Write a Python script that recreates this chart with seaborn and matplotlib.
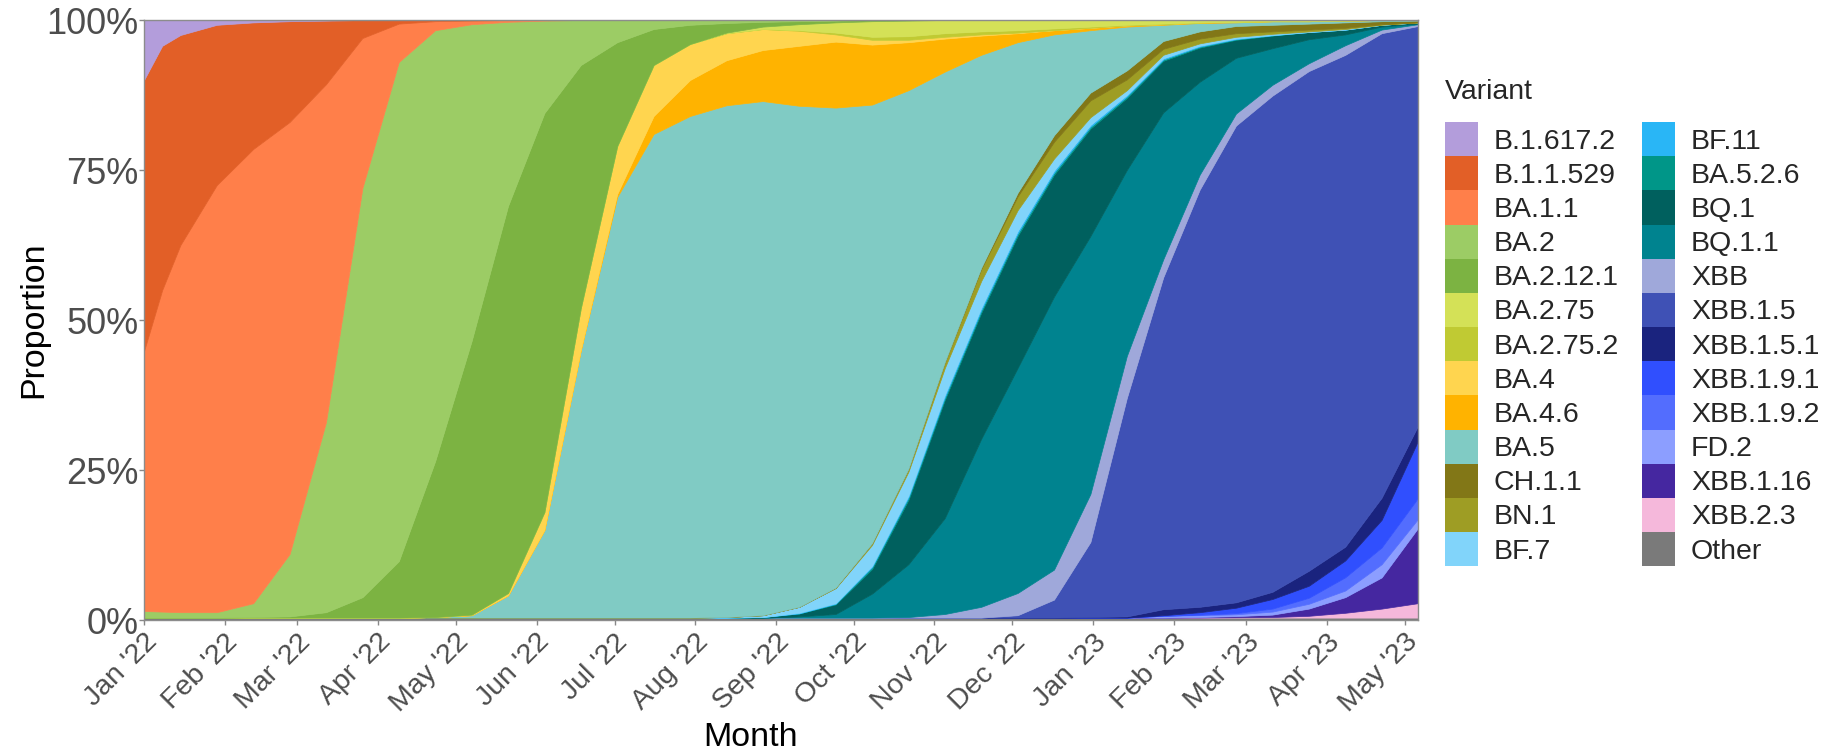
import pandas as pd
import matplotlib
matplotlib.use("Agg")
import matplotlib.pyplot as plt
from matplotlib.patches import Patch
import seaborn as sns

# sample dates
dates = ["2022-01-01", "2022-01-08", "2022-01-15", "2022-01-29", "2022-02-12", "2022-02-26",
         "2022-03-12", "2022-03-26", "2022-04-09", "2022-04-23", "2022-05-07", "2022-05-21",
         "2022-06-04", "2022-06-18", "2022-07-02", "2022-07-16", "2022-07-30", "2022-08-13",
         "2022-08-27", "2022-09-10", "2022-09-24", "2022-10-08", "2022-10-22", "2022-11-05",
         "2022-11-19", "2022-12-03", "2022-12-17", "2022-12-31", "2023-01-14", "2023-01-28",
         "2023-02-11", "2023-02-25", "2023-03-11", "2023-03-25", "2023-04-08", "2023-04-22",
         "2023-05-06"]

# share of sequences per variant (%)
b_1_617_2 = [10, 4.3, 2.5, 0.8, 0.4, 0.2, 0.1, 0, 0, 0, 0, 0, 0,
             0, 0, 0, 0, 0, 0, 0, 0, 0, 0, 0, 0,
             0, 0, 0, 0, 0, 0, 0, 0, 0, 0, 0, 0]
b_1_1_529 = [45.2, 40.7, 35, 26.7, 21.1, 16.8, 10.6, 3.0, 0.6, 0.2, 0.1, 0, 0,
             0, 0, 0, 0, 0, 0, 0, 0, 0, 0, 0, 0,
             0, 0, 0, 0, 0, 0, 0, 0, 0, 0, 0, 0]
ba_1_1 = [43.3, 53.6, 61.2, 71.2, 75.7, 72, 56.3, 25, 6.4, 1.5, 0.6, 0.3, 0.1,
          0, 0, 0, 0, 0, 0, 0, 0, 0, 0, 0, 0,
          0, 0, 0, 0, 0, 0, 0, 0, 0, 0, 0, 0]
ba_2 = [1.1, 1.0, 0.9, 0.9, 2.3, 10.4, 31.7, 68.2, 83.2, 71.8, 52.8, 30.7, 15.4,
        7.5, 3.7, 1.5, 0.8, 0.5, 0.3, 0.2, 0.1, 0, 0, 0, 0,
        0, 0, 0, 0, 0, 0, 0, 0, 0, 0, 0, 0]
ba_2_12_1 = [0, 0, 0, 0, 0.1, 0.2, 0.9, 3.4, 9.4, 26, 45.6, 64.5, 66.5,
             40.5, 17.3, 6, 3.2, 1.6, 0.8, 0.5, 0.3, 0.2, 0.1, 0, 0,
             0, 0, 0, 0, 0, 0, 0, 0, 0, 0, 0, 0]
ba_2_75 = [0, 0, 0, 0, 0, 0, 0, 0, 0, 0, 0, 0, 0,
           0, 0, 0, 0, 0.1, 0.4, 1.0, 1.7, 2.6, 2.6, 2.2, 1.9,
           1.7, 1.4, 1.1, 0.8, 0.6, 0.4, 0.3, 0.2, 0.2, 0.1, 0, 0]
ba_2_75_2 = [0, 0, 0, 0, 0, 0, 0, 0, 0, 0, 0, 0, 0,
             0, 0, 0, 0, 0, 0, 0.1, 0.3, 0.5, 0.6, 0.6, 0.5,
             0.4, 0.3, 0.2, 0.1, 0.1, 0, 0, 0, 0, 0, 0, 0]
ba_4 = [0, 0, 0, 0, 0, 0, 0, 0, 0, 0, 0.1, 0.4, 3,
        7, 8, 8.5, 6, 4.5, 3.5, 2.5, 1.2, 0.8, 0.4, 0.3, 0.2,
        0.1, 0, 0, 0, 0, 0, 0, 0, 0, 0, 0, 0]
ba_4_6 = [0, 0, 0, 0, 0, 0, 0, 0, 0, 0, 0, 0, 0,
          0, 0.5, 3, 6, 7.5, 8.5, 10, 11, 10, 8, 5.5, 3.2,
          1.5, 0.7, 0.4, 0.2, 0.1, 0.1, 0.1, 0, 0, 0, 0, 0]
ba_5 = [0, 0, 0, 0, 0, 0, 0, 0, 0, 0.1, 0.4, 3.7, 14.6,
        44.6, 70.1, 80.6, 83.6, 85.2, 85.6, 83.5, 80, 73.1, 63.1, 48.4, 35.5,
        25.1, 16.8, 10.4, 7.3, 2.7, 1.4, 0.6, 0.6, 0.4, 0.3, 0.2, 0.1]
ch_1_1 = [0, 0, 0, 0, 0, 0, 0, 0, 0, 0, 0, 0, 0,
          0, 0, 0, 0, 0, 0, 0, 0, 0, 0, 0, 0.2,
          0.6, 1.1, 1.3, 1.5, 1.3, 1.2, 1.2, 1.1, 1.0, 0.9, 0.5, 0.3]
bn_1 = [0, 0, 0, 0, 0, 0, 0, 0, 0, 0, 0, 0, 0,
        0, 0, 0, 0, 0, 0, 0, 0.1, 0.3, 0.5, 1.0, 2.0,
        2.3, 2.8, 2.8, 1.8, 1.0, 0.8, 0.6, 0.4, 0.3, 0.2, 0.1, 0]
bf_7 = [0, 0, 0, 0, 0, 0, 0, 0, 0, 0, 0, 0, 0,
        0, 0, 0, 0, 0.1, 0.3, 1.0, 2.5, 3.5, 4.0, 4.5, 4.5,
        3.5, 2.0, 1.3, 0.8, 0.6, 0.4, 0.3, 0.2, 0.1, 0.1, 0, 0]
bf_11 = [0, 0, 0, 0, 0, 0, 0, 0, 0, 0, 0, 0, 0,
         0, 0, 0, 0, 0, 0, 0.1, 0.1, 0.2, 0.3, 0.4, 0.4,
         0.4, 0.35, 0.3, 0.25, 0.2, 0.15, 0.1, 0.05, 0, 0, 0, 0]
ba_5_2_6 = [0, 0, 0, 0, 0, 0, 0, 0, 0, 0, 0, 0, 0,
            0, 0, 0, 0, 0, 0, 0, 0.1, 0.3, 0.4, 0.4, 0.4,
            0.4, 0.35, 0.3, 0.25, 0.2, 0.15, 0.1, 0.05, 0, 0, 0, 0]
bq_1 = [0, 0, 0, 0, 0, 0, 0, 0, 0, 0, 0, 0, 0,
        0, 0, 0, 0, 0, 0.1, 0.5, 1.6, 4.1, 10.7, 19.7, 21,
        22, 20.3, 17.9, 12, 8.6, 5.7, 3, 2.1, 1.2, 0.8, 0.3, 0.2]
bq_1_1 = [0, 0, 0, 0, 0, 0, 0, 0, 0, 0, 0, 0, 0,
          0, 0, 0, 0, 0, 0, 0.2, 0.6, 4.0, 8.8, 16, 28,
          37.5, 45.5, 43, 31, 24.5, 15.5, 9.3, 6.1, 4, 1.8, 0.5, 0.1]
xbb = [0, 0, 0, 0, 0, 0, 0, 0, 0, 0, 0, 0, 0,
       0, 0, 0, 0, 0, 0, 0, 0, 0, 0.1, 0.6, 1.8,
       3.7, 5, 8, 7, 3, 2.5, 2, 1.8, 1.3, 1.6, 0.6, 0.3]
xbb_1_5 = [0, 0, 0, 0, 0, 0, 0, 0, 0, 0, 0, 0, 0,
           0, 0, 0, 0, 0, 0, 0, 0, 0, 0, 0, 0,
           0.4, 3.0, 12.5, 36.4, 55.3, 69.5, 79.5, 82.7, 83.2, 81.8, 77.5, 66.5]
xbb_1_5_1 = [0, 0, 0, 0, 0, 0, 0, 0, 0, 0, 0, 0, 0,
             0, 0, 0, 0, 0, 0, 0, 0, 0, 0, 0, 0,
             0, 0, 0.1, 0.2, 1.0, 0.9, 0.9, 1.2, 2.5, 2.3, 3.7, 2.5]
xbb_1_9_1 = [0, 0, 0, 0, 0, 0, 0, 0, 0, 0, 0, 0, 0,
             0, 0, 0, 0, 0, 0, 0, 0, 0, 0, 0, 0,
             0, 0, 0, 0, 0.1, 0.4, 0.9, 1.6, 2.0, 2.8, 4.6, 9.5]
xbb_1_9_2 = [0, 0, 0, 0, 0, 0, 0, 0, 0, 0, 0, 0, 0,
             0, 0, 0, 0, 0, 0, 0, 0, 0, 0, 0, 0,
             0, 0, 0, 0, 0, 0.1, 0.2, 0.5, 1.0, 2.2, 2.8, 3.5]
fd_2 = [0, 0, 0, 0, 0, 0, 0, 0, 0, 0, 0, 0, 0,
        0, 0, 0, 0, 0, 0, 0, 0, 0, 0, 0, 0,
        0, 0, 0, 0, 0.3, 0.3, 0.3, 0.5, 0.8, 1.1, 2.2, 1.5]
xbb_1_16 = [0, 0, 0, 0, 0, 0, 0, 0, 0, 0, 0, 0, 0,
            0, 0, 0, 0, 0, 0, 0, 0, 0, 0, 0, 0,
            0, 0, 0, 0, 0, 0.1, 0.2, 0.4, 1.2, 2.6, 5.2, 12.5]
xbb_2_3 = [0, 0, 0, 0, 0, 0, 0, 0, 0, 0, 0, 0, 0,
           0, 0, 0, 0, 0, 0, 0, 0, 0, 0, 0, 0,
           0, 0, 0, 0, 0, 0, 0.05, 0.1, 0.3, 0.8, 1.5, 2.4]
other = [0.4, 0.4, 0.4, 0.4, 0.4, 0.4, 0.4, 0.4, 0.4, 0.4, 0.4, 0.4, 0.4,
         0.4, 0.4, 0.4, 0.4, 0.4, 0.4, 0.4, 0.4, 0.4, 0.4, 0.4, 0.4,
         0.4, 0.4, 0.4, 0.4, 0.4, 0.4, 0.4, 0.4, 0.4, 0.4, 0.4, 0.4]

variants = ["B.1.617.2", "B.1.1.529", "BA.1.1", "BA.2", "BA.2.12.1", "BA.2.75",
            "BA.2.75.2", "BA.4", "BA.4.6", "BA.5", "CH.1.1", "BN.1", "BF.7",
            "BF.11", "BA.5.2.6", "BQ.1", "BQ.1.1", "XBB", "XBB.1.5", "XBB.1.5.1",
            "XBB.1.9.1", "XBB.1.9.2", "FD.2", "XBB.1.16", "XBB.2.3", "Other"]
series = [b_1_617_2, b_1_1_529, ba_1_1, ba_2, ba_2_12_1, ba_2_75, ba_2_75_2, ba_4,
          ba_4_6, ba_5, ch_1_1, bn_1, bf_7, bf_11, ba_5_2_6, bq_1, bq_1_1, xbb,
          xbb_1_5, xbb_1_5_1, xbb_1_9_1, xbb_1_9_2, fd_2, xbb_1_16, xbb_2_3, other]
colors = ["#B39DDB", "#E25F27", "#FF7F4A", "#9CCC65", "#7CB342", "#D4E157",
          "#C0CA33", "#FFD54F", "#FFB300", "#80CBC4", "#827717", "#9E9D24",
          "#81D4FA", "#29B6F6", "#009688", "#00605E", "#00838F", "#9FA8DA",
          "#3F51B5", "#1A237E", "#304FFE", "#536DFE", "#8C9EFF", "#4527A0",
          "#F5B8DB", "#7A7A7A"]
palette = dict(zip(variants, colors))

df = pd.DataFrame(dict(zip(variants, series)), index=pd.to_datetime(dates))
share = df.div(df.sum(axis=1), axis=0)

sns.set_theme(style="white")
plt.rcParams["font.family"] = ["Liberation Sans", "DejaVu Sans"]

W, H = 1837, 751
fig = plt.figure(figsize=(W / 100, H / 100), dpi=100)
ax = fig.add_axes([144 / W, 1 - 620 / H, (1418 - 144) / W, 600 / H])

# first level on top, as in a position="fill" area chart
order = variants[::-1]
ax.stackplot(share.index, [share[v].values for v in order],
             colors=[palette[v] for v in order], linewidth=0.5, edgecolor="face")

ax.set_xlim(share.index[0], share.index[-1])
ax.set_ylim(0, 1)

months = pd.date_range("2022-01-01", "2023-05-01", freq="MS")
ax.set_xticks(months)
ax.set_xticklabels([m.strftime("%b '%y") for m in months], rotation=45, ha="right",
                   va="top", rotation_mode="anchor", fontsize=20.5, color="#4d4d4d")
ax.set_yticks([0, 0.25, 0.5, 0.75, 1])
ax.set_yticklabels(["0%", "25%", "50%", "75%", "100%"], fontsize=26, color="#4d4d4d")
ax.tick_params(bottom=True, left=True, direction="out", length=3.5, width=1,
               color="#888888")
ax.tick_params(axis="y", pad=0.5)
ax.tick_params(axis="x", pad=3)

for s in ax.spines.values():
    s.set_visible(True)
    s.set_color("#8c8c8c")
    s.set_linewidth(1)

ax.set_xlabel("Month", fontsize=24.5, color="black")
ax.xaxis.label.set_verticalalignment("center")
ax.xaxis.set_label_coords(0.476, -0.195)
ax.set_ylabel("Proportion", fontsize=24.5, color="black")
ax.yaxis.set_label_coords(-0.0746, 0.5)

handles = [Patch(facecolor=palette[v], edgecolor="none", label=v) for v in variants]
fig.legend(handles=handles, loc="upper left", bbox_to_anchor=(1445 / W, 1 - 122 / H),
           ncol=2, frameon=False, fontsize=20.5, handlelength=1.16, handleheight=1.47,
           handletextpad=0.56, columnspacing=0.8, labelspacing=0, borderpad=0,
           borderaxespad=0)
fig.text(1445 / W, 1 - 92 / H, "Variant", fontsize=20.5, ha="left", va="center")

fig.savefig("out.png", dpi=100)
